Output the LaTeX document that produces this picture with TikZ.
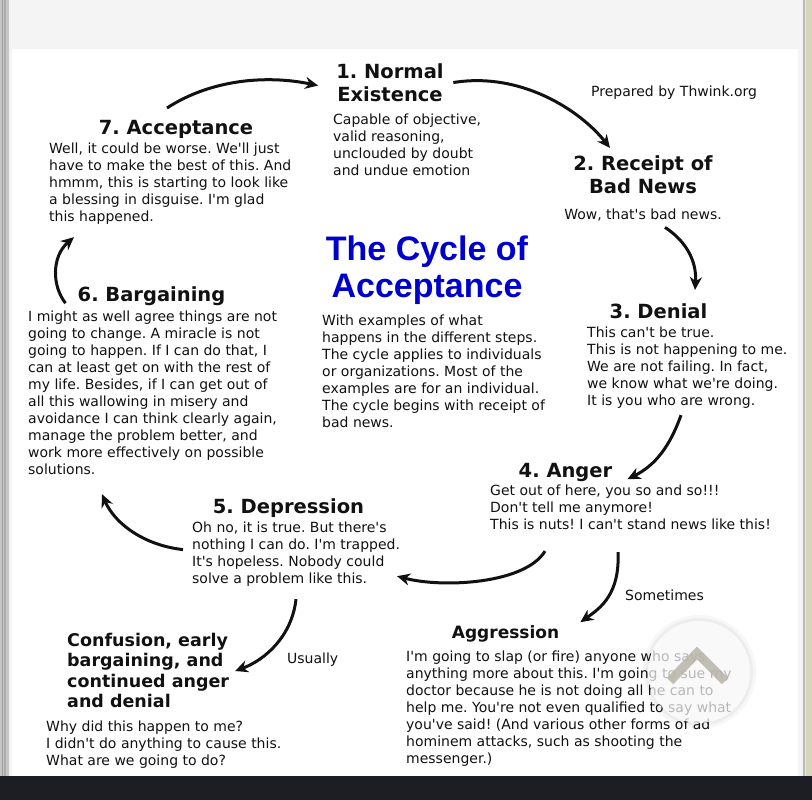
\documentclass[tikz,border=0pt]{standalone}
\usepackage{fontspec}
\setmainfont{DejaVu Sans}
\newfontfamily\titlefont{Liberation Sans}
\usetikzlibrary{arrows.meta}
\usepackage{xcolor}
\definecolor{ink}{HTML}{111111}
\definecolor{titleblue}{HTML}{0000CC}
\definecolor{chrome}{HTML}{F4F4F4}
\definecolor{barbg}{HTML}{1C1E23}
\definecolor{caret}{HTML}{B8B4A8}
\newcommand{\apo}{\textquotesingle}
\frenchspacing

\begin{document}
\begin{tikzpicture}[x=1pt, y=-1pt,
    stagehead/.style={font=\fontsize{19.5}{23}\selectfont\bfseries, align=center, inner sep=0pt, anchor=north, text=ink, execute at begin node=\strut},
    stagetext/.style={font=\fontsize{14}{17}\selectfont, align=left, inner sep=0pt, anchor=north west, text=ink, execute at begin node=\strut},
    flow/.style={-{Stealth[length=13pt, width=12pt]}, line width=3pt, draw=ink}]
  \useasboundingbox (0,0) rectangle (812,800);

  % Window frame
  \fill[white] (0,0) rectangle (812,800);
  \fill[chrome] (9,0) rectangle (803,49);
  \fill[chrome] (9,0) rectangle (12,776);
  \fill[chrome] (798,0) rectangle (803,776);
  \fill[gray!45] (0,0) rectangle (9,776);
  \fill[gray!75] (2,0) rectangle (3,776);
  \fill[gray!65] (4,0) rectangle (6,776);
  \fill[gray!55] (803,0) rectangle (805,776);
  \fill[gray!20] (805,0) rectangle (806,776);
  \fill[black!40!olive!25] (806,0) rectangle (812,776);
  \fill[barbg] (0,776) rectangle (812,800);

  % Stage 1
  \node[stagehead] (normhead) at (390,63) {1. Normal\\Existence};
  \node[stagetext] (normtxt) at (333,114) {Capable of objective,\\valid reasoning,\\unclouded by doubt\\and undue emotion};
  \node[stagetext, anchor=base west] (credit) at (591,96) {Prepared by Thwink.org};

  % Stage 2
  \node[stagehead] (rechead) at (643,155) {2. Receipt of\\Bad News};
  \node[stagetext, anchor=north, align=center] (rectxt) at (643,207) {Wow, that\apo s bad news.};

  % Stage 7
  \node[stagehead] (acchead) at (176,118) {7. Acceptance};
  \node[stagetext] (acctxt) at (49,143) {Well, it could be worse. We\apo ll just\\have to make the best of this. And\\hmmm, this is starting to look like\\a blessing in disguise. I\apo m glad\\this happened.};

  % Title
  \node[font=\fontsize{34}{37}\selectfont\titlefont\bfseries, text=titleblue, align=center, inner sep=0pt, anchor=north, execute at begin node=\strut] (title) at (427,236) {The Cycle of\\Acceptance};
  \node[stagetext] (intro) at (322,315) {With examples of what\\happens in the different steps.\\The cycle applies to individuals\\or organizations. Most of the\\examples are for an individual.\\The cycle begins with receipt of\\bad news.};

  % Stage 3
  \node[stagehead] (denhead) at (658.5,302) {3. Denial};
  \node[stagetext] (dentxt) at (587,327) {This can\apo t be true.\\This is not happening to me.\\We are not failing. In fact,\\we know what we\apo re doing.\\It is you who are wrong.};

  % Stage 6
  \node[stagehead] (barhead) at (151.5,285) {6. Bargaining};
  \node[stagetext] (bartxt) at (28,311) {I might as well agree things are not\\going to change. A miracle is not\\going to happen. If I can do that, I\\can at least get on with the rest of\\my life. Besides, if I can get out of\\all this wallowing in misery and\\avoidance I can think clearly again,\\manage the problem better, and\\work more effectively on possible\\solutions.};

  % Stage 4
  \node[stagehead] (anghead) at (565.5,461) {4. Anger};
  \node[stagetext] (angtxt) at (490,485) {Get out of here, you so and so!!!\\Don\apo t tell me anymore!\\This is nuts! I can\apo t stand news like this!};

  % Stage 5
  \node[stagehead] (dephead) at (288.5,497) {5. Depression};
  \node[stagetext] (deptxt) at (192,522) {Oh no, it is true. But there\apo s\\nothing I can do. I\apo m trapped.\\It\apo s hopeless. Nobody could\\solve a problem like this.};

  % Branch: sometimes
  \node[stagetext, anchor=base west] (sometimes) at (625,600) {Sometimes};
  \node[stagehead, font=\fontsize{17}{20}\selectfont\bfseries] (agghead) at (505.5,624) {Aggression};
  \node[stagetext] (aggtxt) at (406,651) {I\apo m going to slap (or fire) anyone who says\\anything more about this. I\apo m going to sue my\\doctor because he is not doing all he can to\\help me. You\apo re not even qualified to say what\\you\apo ve said! (And various other forms of ad\\hominem attacks, such as shooting the\\messenger.)};

  % Branch: usually
  \node[stagehead, font=\fontsize{17.5}{20.3}\selectfont\bfseries, align=left, anchor=north west] (confhead) at (67,633) {Confusion, early\\bargaining, and\\continued anger\\and denial};
  \node[stagetext, anchor=base west] (usually) at (287,663) {Usually};
  \node[stagetext] (conftxt) at (46,721) {Why did this happen to me?\\I didn\apo t do anything to cause this.\\What are we going to do?};

  % Cycle arrows
  \draw[flow] ([xshift=-9pt, yshift=10pt]acchead.north) .. controls +(43,-28) and +(-53,-11) .. ([xshift=-18pt]normhead.west);
  \draw[flow] ([xshift=9.5pt, yshift=3pt]normhead.east) .. controls +(67,-11) and +(-30,-38) .. ([xshift=-33pt, yshift=7pt]rechead.north);
  \draw[flow] ([xshift=22pt, yshift=-3pt]rectxt.south) .. controls +(20,13) and +(2,-30) .. ([xshift=36.5pt, yshift=12pt]denhead.north);
  \draw[flow] ([xshift=94pt, yshift=-4pt]dentxt.south west) .. controls +(-11,31) and +(28,-14) .. ([xshift=15pt, yshift=-6.5pt]anghead.east);
  \draw[flow] ([xshift=55pt, yshift=-16pt]angtxt.south west) .. controls +(-20,33) and +(45,12) .. ([xshift=205pt, yshift=13pt]deptxt.south west);
  \draw[flow] ([xshift=-9pt, yshift=6pt]deptxt.west) .. controls +(-38,-4) and +(13,30) .. ([xshift=74pt, yshift=-14pt]bartxt.south west);
  \draw[flow] ([xshift=-12pt, yshift=-6.5pt]barhead.west) .. controls +(-14,-18) and +(-22,19) .. ([xshift=25pt, yshift=-10pt]acctxt.south west);

  % Branch arrows
  \draw[flow] ([xshift=128pt, yshift=-17pt]angtxt.south west) .. controls +(2,42) and +(20,-14) .. ([xshift=21pt, yshift=12pt]agghead.east);
  \draw[flow] ([xshift=104pt, yshift=-10pt]deptxt.south west) .. controls +(-4,37) and +(30,-11) .. ([xshift=168pt, yshift=-38pt]confhead.north west);

  % Scroll button overlay
  \fill[black, opacity=0.03] (699,672) circle (57);
  \fill[black, opacity=0.04] (699,672) circle (54);
  \fill[white, opacity=0.7] (699,672) circle (51);
  \draw[caret, opacity=0.85, line width=9pt] (670,681) -- (697,653) -- (725,681);
\end{tikzpicture}
\end{document}
